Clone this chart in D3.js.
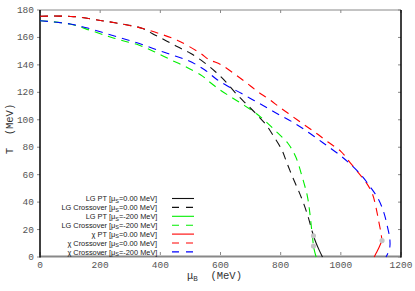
<!DOCTYPE html>
<html><head><meta charset="utf-8">
<script src="https://cdn.jsdelivr.net/npm/d3@7/dist/d3.min.js"></script>
<style>body{margin:0;background:#fff}svg{display:block}</style>
</head><body><svg id="c" width="415" height="291"></svg>
<script>
const xTicks = [0, 200, 400, 600, 800, 1000, 1200];
const yTicks = [0, 20, 40, 60, 80, 100, 120, 140, 160, 180];

// [muB (MeV), T (MeV)]
const lgPT0 = [[909,15.5],[918,10],[928,5],[939,0]];
const lgCross0 = [[0,175.5],[111,175.2],[206,172.2],[272,169.8],[339,166.7],[380,162],[422,157.3],[461,152.8],[500,148.5],[544,142],[583,135],[617,127.8],[652,119],[686,111.5],[719,104.2],[752,96.2],[778,87.5],[804,78],[820,69],[840,58],[860,48],[878,38],[893,28],[903,20],[909,15.5]];
const lgPT200 = [[909,8],[913,4],[918,0]];
const lgCross200 = [[0,172.2],[100,169.8],[167,165.2],[224,161],[269,158],[328,154.5],[380,149.6],[436,143.6],[486,138.5],[539,132],[561,128],[600,121.5],[640,115.9],[680,110.3],[721,104.2],[757,97.4],[791,90.2],[824,82.9],[850,73],[872,58],[889,44],[897,32],[903,20],[909,8]];
const chiPT0 = [[1137,12],[1128,7.5],[1119,3.5],[1111,0]];
const chiCross0 = [[0,175.5],[111,175.2],[206,172.2],[272,169.8],[339,166.7],[394,163],[456,158],[533,148.5],[561,144],[603,140],[643,134],[683,127.5],[722,120.8],[761,115],[800,108.6],[839,102.5],[878,96.4],[917,90.4],[956,84],[1000,77],[1030,69],[1058,61.5],[1085,54],[1105,46],[1117,36],[1126,26],[1133,18],[1137,12]];
const chiCross200 = [[0,172.2],[100,169.8],[161,166.7],[217,163],[272,159.4],[328,155.7],[383,151.4],[439,147.2],[494,143],[547,136.5],[589,129.2],[631,123.7],[669,119.3],[713,113.9],[756,108.6],[798,103.3],[839,98.4],[878,93],[920,86.5],[958,80.5],[998,74],[1031,67.8],[1069,59.3],[1097,51.3],[1124,42.5],[1142,33],[1155,22],[1163,13],[1162,6],[1150,0]];
const criticalPoints = [[909,15.5],[909,8],[1137,12]];

const legendNames = ["LG PT","LG Crossover","LG PT","LG Crossover","\u03c7 PT","\u03c7 Crossover","\u03c7 Crossover"];
const legendMuS = ["0.00","0.00","-200","-200","0.00","0.00","-200"];
const seriesData = [lgPT0, lgCross0, lgPT200, lgCross200, chiPT0, chiCross0, chiCross200];
const seriesColors = ["#111111","#111111","#00ee00","#00ee00","#ff0000","#ff0000","#0000ff"];
const seriesDashed = [false, true, false, true, false, true, true];

const svg = d3.select("#c");
const x = d3.scaleLinear().domain([0,1200]).range([40,401]);
const y = d3.scaleLinear().domain([0,180]).range([257,10]);
const tickFont = "'Liberation Mono', monospace";
const dash = "8,6";

// frame
svg.append("line").attr("x1",40).attr("x2",401).attr("y1",10).attr("y2",10).attr("stroke","#888").attr("stroke-width",1);
svg.append("line").attr("x1",40).attr("x2",401).attr("y1",256.5).attr("y2",256.5).attr("stroke","#888").attr("stroke-width",2);

// ticks
const g = svg.append("g");
xTicks.forEach(t => {
  g.append("line").attr("x1",x(t)).attr("x2",x(t)).attr("y1",255).attr("y2",252).attr("stroke","#888");
  g.append("line").attr("x1",x(t)).attr("x2",x(t)).attr("y1",10).attr("y2",13).attr("stroke","#888");
  g.append("text").attr("x",x(t)).attr("y",268).attr("text-anchor","middle")
    .attr("font-family",tickFont).attr("font-size",9.5).attr("fill","#555").text(t);
});
yTicks.forEach(t => {
  g.append("line").attr("x1",37).attr("x2",40).attr("y1",y(t)).attr("y2",y(t)).attr("stroke","#888");
  g.append("line").attr("x1",398).attr("x2",401).attr("y1",y(t)).attr("y2",y(t)).attr("stroke","#888");
  g.append("text").attr("x",34).attr("y",y(t)+3).attr("text-anchor","end")
    .attr("font-family",tickFont).attr("font-size",9.5).attr("fill","#555").text(t);
});
svg.append("line").attr("x1",40).attr("x2",40).attr("y1",10).attr("y2",257.5).attr("stroke","#000").attr("stroke-width",1.5);
svg.append("line").attr("x1",401).attr("x2",401).attr("y1",10).attr("y2",257.5).attr("stroke","#000").attr("stroke-width",1.5);

// axis labels
const xl = svg.append("text").attr("x",187).attr("y",279).attr("font-family",tickFont).attr("font-size",10.5).attr("fill","#333");
xl.append("tspan").text("\u03bc");
xl.append("tspan").attr("font-size",7.5).attr("dy",2).text("B");
xl.append("tspan").attr("dy",-2).text("  (MeV)").attr("xml:space","preserve");
xl.attr("xml:space","preserve");
svg.append("text").attr("transform","translate(13,129) rotate(-90)").attr("text-anchor","middle")
  .attr("xml:space","preserve").attr("font-family",tickFont).attr("font-size",10.5).attr("fill","#333").text("T  (MeV)");

// curves
const line = d3.line().x(d => x(d[0])).y(d => y(d[1])).curve(d3.curveCatmullRom.alpha(0.5));
seriesData.forEach((data,i) => {
  svg.append("path").attr("d",line(data)).attr("fill","none")
    .attr("stroke",seriesColors[i]).attr("stroke-width",1.1)
    .attr("stroke-dasharray",seriesDashed[i] ? dash : null);
});
svg.selectAll("circle.cp").data(criticalPoints).enter().append("circle")
  .attr("cx",d => x(d[0])).attr("cy",d => y(d[1])).attr("r",2.6).attr("fill","#c4c4c4");

// legend
const lf = "'Liberation Sans', Arial, sans-serif";
legendNames.forEach((name,i) => {
  const cy = 198.5 + i*8.9;
  svg.append("text").attr("x",107).attr("y",cy+2.6).attr("text-anchor","end")
    .attr("font-family",lf).attr("font-size",7.4).attr("fill","#222").text(name);
  const t = svg.append("text").attr("x",109).attr("y",cy+2.6)
    .attr("font-family",lf).attr("font-size",7.4).attr("fill","#222");
  t.append("tspan").text("[\u03bc");
  t.append("tspan").attr("font-size",5.5).attr("dy",1.6).text("S");
  t.append("tspan").attr("dy",-1.6).text("=" + legendMuS[i] + " MeV]");
  svg.append("line").attr("x1",172).attr("x2",194).attr("y1",cy).attr("y2",cy)
    .attr("stroke",seriesColors[i]).attr("stroke-width",1.1)
    .attr("stroke-dasharray",seriesDashed[i] ? "7,7" : null);
});
</script></body></html>
